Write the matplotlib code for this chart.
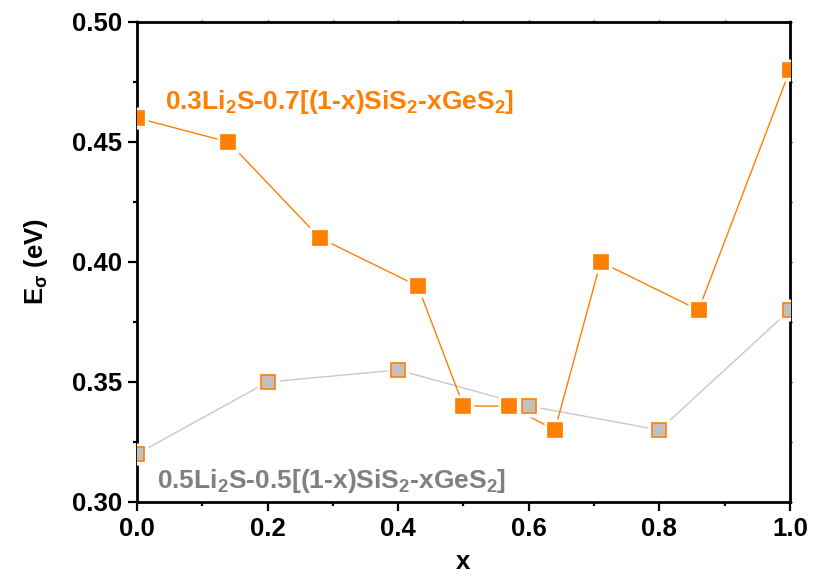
import matplotlib
matplotlib.use("Agg")
import matplotlib.pyplot as plt
from matplotlib.ticker import MultipleLocator, FormatStrFormatter, NullFormatter

plt.rcParams["font.family"] = ["Liberation Sans", "DejaVu Sans"]
plt.rcParams["font.weight"] = "bold"
plt.rcParams["mathtext.fontset"] = "custom"
plt.rcParams["mathtext.rm"] = "Liberation Sans:bold"
plt.rcParams["mathtext.it"] = "Liberation Sans"
plt.rcParams["mathtext.bf"] = "Liberation Sans:bold"
plt.rcParams["mathtext.default"] = "rm"

# 0.3Li2S-0.7[(1-x)SiS2-xGeS2]
x_03 = [0.0, 0.14, 0.28, 0.43, 0.50, 0.57, 0.64, 0.71, 0.86, 1.0]
e_03 = [0.46, 0.45, 0.41, 0.39, 0.34, 0.34, 0.33, 0.40, 0.38, 0.48]

# 0.5Li2S-0.5[(1-x)SiS2-xGeS2]
x_05 = [0.0, 0.2, 0.4, 0.6, 0.8, 1.0]
e_05 = [0.32, 0.35, 0.355, 0.34, 0.33, 0.38]

label_03 = r"0.3Li$_2$S-0.7[(1-x)SiS$_2$-xGeS$_2$]"
label_05 = r"0.5Li$_2$S-0.5[(1-x)SiS$_2$-xGeS$_2$]"

orange = "#ff7f00"
silver = "#c0c0c0"
gray_line = "#c8c8c8"
gray_text = "#808080"

fig = plt.figure(figsize=(8.21, 5.77), dpi=100)
ax = fig.add_axes([0.1669, 0.13, 0.7953, 0.8319])

ms = 10
gap = 16

# lines first, then a white pad under each marker so lines stop short of it
ax.plot(x_05, e_05, color=gray_line, lw=1.0, zorder=2)
ax.plot(x_03, e_03, color=orange, lw=1.0, zorder=2)
ax.plot(x_05, e_05, ls="none", marker="s", ms=gap, mfc="white", mec="none", zorder=3)
ax.plot(x_03, e_03, ls="none", marker="s", ms=gap, mfc="white", mec="none", zorder=3)
ax.plot(x_05, e_05, ls="none", marker="s", ms=ms, mfc=silver, mec=orange, mew=1.2, zorder=4)
ax.plot(x_03, e_03, ls="none", marker="s", ms=ms, mfc=orange, mec=orange, mew=1.2, zorder=4)

ax.set_xlim(0, 1.0)
ax.set_ylim(0.30, 0.50)
ax.xaxis.set_major_locator(MultipleLocator(0.2))
ax.xaxis.set_minor_locator(MultipleLocator(0.1))
ax.yaxis.set_major_locator(MultipleLocator(0.05))
ax.yaxis.set_minor_locator(MultipleLocator(0.025))
ax.xaxis.set_major_formatter(FormatStrFormatter("%.1f"))
ax.yaxis.set_major_formatter(FormatStrFormatter("%.2f"))

for s in ax.spines.values():
    s.set_linewidth(2.0)

ax.tick_params(axis="both", which="major", direction="out", length=6.5, width=1.6,
               labelsize=18.5, pad=4)
ax.tick_params(axis="both", which="minor", direction="out", length=3, width=1.6)

# faint short ticks along the top and right edges
top = ax.secondary_xaxis("top")
top.xaxis.set_major_locator(MultipleLocator(0.1))
top.xaxis.set_major_formatter(NullFormatter())
top.tick_params(length=1.5, width=1.0, direction="out")
right = ax.secondary_yaxis("right")
right.yaxis.set_major_locator(MultipleLocator(0.025))
right.yaxis.set_major_formatter(NullFormatter())
right.tick_params(length=1.5, width=1.0, direction="out")

ax.set_xlabel("x", fontsize=18.5, fontweight="bold", labelpad=7)
ax.set_ylabel(r"E$_{\sigma}$ (eV)", fontsize=18.5, fontweight="bold", labelpad=16)

ax.text(0.043, 0.4638, label_03, color=orange, fontsize=19, fontweight="bold",
        ha="left", va="baseline")
ax.text(0.031, 0.3058, label_05, color=gray_text, fontsize=19, fontweight="bold",
        ha="left", va="baseline")

fig.savefig("out.png", dpi=100)
